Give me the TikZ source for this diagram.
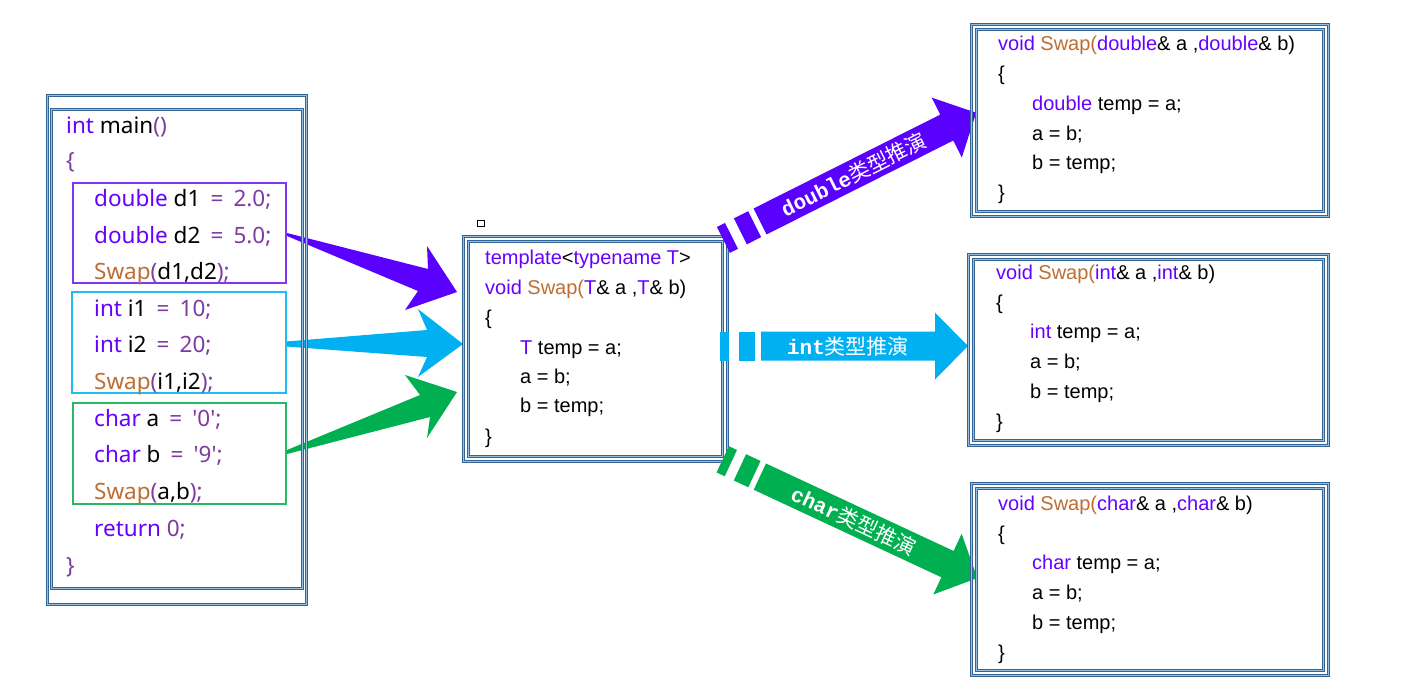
\documentclass[tikz,border=0pt]{standalone}
\usepackage{fontspec}
\setmainfont{Liberation Sans}
\newfontfamily\codefont{Noto Sans}
\newfontfamily\cjkfont{Noto Sans CJK SC}
\newfontfamily\lblfont{Liberation Mono}
\definecolor{kw}{RGB}{102,0,255}
\definecolor{pn}{RGB}{125,60,160}
\definecolor{fn}{RGB}{190,110,50}
\definecolor{bd}{RGB}{50,100,150}
\definecolor{bdl}{RGB}{150,190,222}
\definecolor{apurple}{RGB}{89,0,255}
\definecolor{acyan}{RGB}{0,176,240}
\definecolor{agreen}{RGB}{0,176,80}
\definecolor{bpurple}{RGB}{125,55,245}
\definecolor{bcyan}{RGB}{30,190,240}
\definecolor{bgreen}{RGB}{40,185,100}
\newcommand\ckw[1]{\textcolor{kw}{#1}}
\newcommand\cpn[1]{\textcolor{pn}{#1}}
\newcommand\cfn[1]{\textcolor{fn}{#1}}
\newcommand\ceq{\hspace{.45em}\cpn{=}\hspace{.45em}}
\tikzset{
  codeL/.style={anchor=base west, inner sep=0pt, font=\codefont\fontsize{22.5}{26}\selectfont},
  codeR/.style={anchor=base west, inner sep=0pt, font=\fontsize{20}{24}\selectfont},
  frame/.style={draw=bd, line width=1.05pt, double=bdl, double distance=0.9pt},
  lbl/.style={text=white, inner sep=0pt, font=\fontsize{21}{24}\selectfont},
}
\newcommand\blockarr[7]{%
  \begin{scope}[shift={(#1,#2)}, rotate=#3]
    \fill[#5] (0,-14.5) rectangle (9,14.5);
    \fill[#5] (19,-14.5) rectangle (35,14.5);
    \fill[#5] (41,-14.5) -- ({#4-33},-14.5) -- ({#4-33},-33.5) -- (#4,0)
      -- ({#4-33},33.5) -- ({#4-33},14.5) -- (41,14.5) -- cycle;
    \node[lbl, rotate=#3] (#7) at ({(#4+8)/2},0) {#6};
  \end{scope}}
\begin{document}
\begin{tikzpicture}[x=1pt,y=-1pt]
\useasboundingbox (0,0) rectangle (1423,693);
\fill[white] (0,0) rectangle (1423,693);

% tapered arrows (behind left box)
\fill[apurple] (287,233) -- (428,269) -- (427,246) -- (457,292) -- (405,310) -- (418,291) -- (287,236) -- cycle;
\fill[acyan] (286,341.5) -- (427,330) -- (418,309) -- (463,344) -- (418,377) -- (427,357) -- (286,346.5) -- cycle;
\fill[agreen] (287,450) -- (420,395) -- (405,375) -- (457,392) -- (427,438) -- (430,417) -- (287,454) -- cycle;

% left box
\draw[frame] (47,95.5) rectangle (306,604);
\draw[frame] (51.5,109.5) rectangle (302,588.5);
\draw[bpurple, line width=1.6pt] (73,183) rectangle (286,283);
\draw[bcyan, line width=1.6pt] (72,292) rectangle (286,393);
\draw[bgreen, line width=1.6pt] (73,403) rectangle (286,504);

\node[codeL] (l1) at (66,133) {\ckw{int} main\cpn{()}};
\node[codeL] (l2) at (66,168) {\cpn{\{}};
\node[codeL] (l3) at (94,206) {\ckw{double} d1\ceq\cpn{2.0;}};
\node[codeL] (l4) at (94,243) {\ckw{double} d2\ceq\cpn{5.0;}};
\node[codeL] (l5) at (94,279) {\cfn{Swap}\cpn{(}d1,d2\cpn{);}};
\node[codeL] (l6) at (94,316) {\ckw{int} i1\ceq\cpn{10;}};
\node[codeL] (l7) at (94,352) {\ckw{int} i2\ceq\cpn{20;}};
\node[codeL] (l8) at (94,389) {\cfn{Swap}\cpn{(}i1,i2\cpn{);}};
\node[codeL] (l9) at (94,426) {\ckw{char} a\ceq\cpn{'0';}};
\node[codeL] (l10) at (94,462) {\ckw{char} b\ceq\cpn{'9';}};
\node[codeL] (l11) at (94,499) {\cfn{Swap}\cpn{(}a,b\cpn{);}};
\node[codeL] (l12) at (94,536) {\ckw{return} \cpn{0;}};
\node[codeL] (l13) at (66,573) {\cpn{\}}};

% middle box
\draw[frame] (463.5,236) rectangle (727,461);
\draw[frame] (468,241.5) rectangle (722.5,456);
\draw[black, line width=0.8pt] (477.5,220) rectangle (484,226.5);
\node[codeR] (m1) at (485,264) {\ckw{template}<\ckw{typename T}>};
\node[codeR] (m2) at (485,294) {\ckw{void} \cfn{Swap(}\ckw{T}\& a ,\ckw{T}\& b)};
\node[codeR] (m3) at (485,324) {\{};
\node[codeR] (m4) at (520,354) {\ckw{T} temp = a;};
\node[codeR] (m5) at (520,383) {a = b;};
\node[codeR] (m6) at (520,412) {b = temp;};
\node[codeR] (m7) at (485,443) {\}};

% block arrows
\blockarr{723.4}{239.9}{26.7}{283}{apurple}{{\lblfont\bfseries double}{\cjkfont 类型推演}}{ld}
\blockarr{720}{346}{0}{248}{acyan}{{\lblfont\bfseries int}{\cjkfont 类型推演}}{li}
\blockarr{722.7}{459.3}{-25}{281}{agreen}{{\lblfont\bfseries char}{\cjkfont 类型推演}}{lc}

% right box 1
\draw[frame] (971.5,24.5) rectangle (1328,216);
\draw[frame] (976,29.5) rectangle (1323.5,211);
\node[codeR] (a1) at (998,51) {\ckw{void} \cfn{Swap(}\ckw{double}\& a ,\ckw{double}\& b)};
\node[codeR] (a2) at (998,81) {\{};
\node[codeR] (a3) at (1032,110) {\ckw{double} temp = a;};
\node[codeR] (a4) at (1032,140) {a = b;};
\node[codeR] (a5) at (1032,169) {b = temp;};
\node[codeR] (a6) at (998,199) {\}};

% right box 2
\draw[frame] (968.5,254.5) rectangle (1328,445);
\draw[frame] (973.5,259.5) rectangle (1323.5,440);
\node[codeR] (b1) at (996,279) {\ckw{void} \cfn{Swap(}\ckw{int}\& a ,\ckw{int}\& b)};
\node[codeR] (b2) at (996,309) {\{};
\node[codeR] (b3) at (1030,338) {\ckw{int} temp = a;};
\node[codeR] (b4) at (1030,368) {a = b;};
\node[codeR] (b5) at (1030,398) {b = temp;};
\node[codeR] (b6) at (996,428) {\}};

% right box 3
\draw[frame] (971.5,483.5) rectangle (1328,675.5);
\draw[frame] (976,488.5) rectangle (1323.5,670);
\node[codeR] (c1) at (998,510) {\ckw{void} \cfn{Swap(}\ckw{char}\& a ,\ckw{char}\& b)};
\node[codeR] (c2) at (998,540) {\{};
\node[codeR] (c3) at (1032,569) {\ckw{char} temp = a;};
\node[codeR] (c4) at (1032,599) {a = b;};
\node[codeR] (c5) at (1032,629) {b = temp;};
\node[codeR] (c6) at (998,659) {\}};
\end{tikzpicture}
\end{document}
